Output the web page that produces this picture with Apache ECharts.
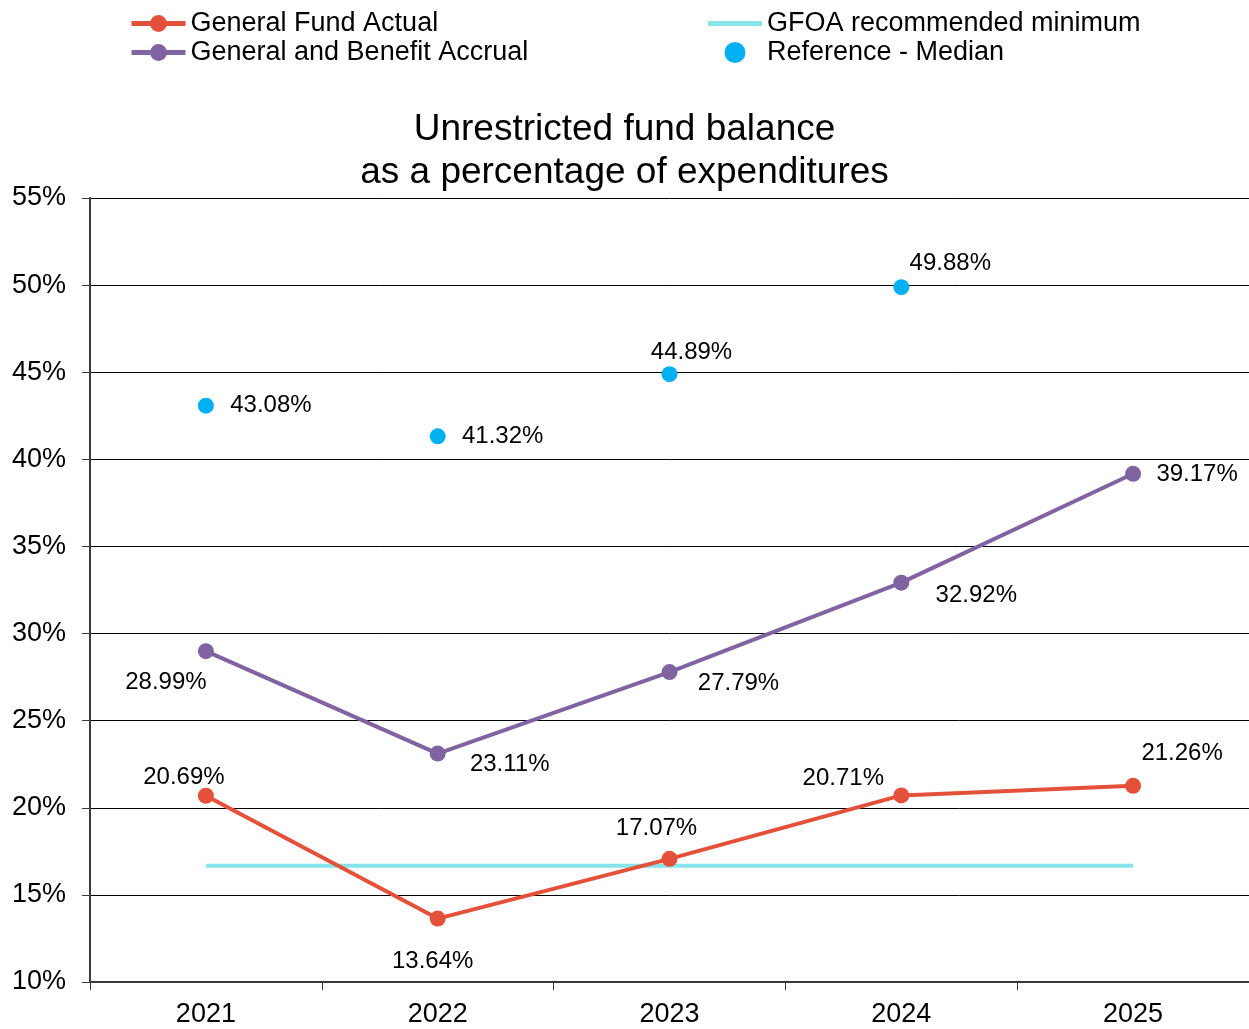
<!DOCTYPE html>
<html>
<head>
<meta charset="utf-8">
<script src="https://cdn.jsdelivr.net/npm/echarts@6/dist/echarts.min.js"></script>
<style>
  html, body { margin: 0; padding: 0; background: #fff; }
  #chart { width: 1249px; height: 1029px; }
</style>
</head>
<body>
<div id="chart"></div>
<script>
const years = ['2021', '2022', '2023', '2024', '2025']
const generalFund = [20.69, 13.64, 17.07, 20.71, 21.26]
const benefitAccrual = [28.99, 23.11, 27.79, 32.92, 39.17]
const gfoaMinimum = [16.67, 16.67, 16.67, 16.67, 16.67]
const referenceMedian = [43.08, 41.32, 44.89, 49.88, null]
const yTicks = { min: 10, max: 55, step: 5 }

const chart = echarts.init(document.getElementById('chart'))
const FONT = '"Liberation Sans", Arial, sans-serif'

// label offsets from point centre, per point
const fundOffsets = [[-22, -18], [-5, 43], [-13, -30], [-58, -17], [49, -32]]
const accrualOffsets = [[-40, 31], [72, 11], [69, 11], [75, 13], [64, 1]]
const medianOffsets = [[65, 0], [65, 0], [22, -22], [49, -24], [0, 0]]

const withLabels = (values, offsets) => values.map((v, i) => ({
  value: v,
  label: { show: v != null, position: 'inside', offset: offsets[i], color: '#000' }
}))

const labelStyle = {
  show: true,
  color: '#000',
  fontSize: 24,
  fontFamily: FONT,
  formatter: p => p.value.toFixed(2) + '%'
}

const legendText = { fontSize: 27, fontFamily: FONT, color: '#000' }
const legendCommon = {
  orient: 'vertical',
  top: 10,
  padding: 0,
  itemWidth: 54,
  itemHeight: 21,
  itemGap: 2,
  textStyle: legendText,
  lineStyle: { width: 5 }
}

const option = {
  animation: false,
  title: {
    text: 'Unrestricted fund balance\nas a percentage of expenditures',
    left: 'center',
    top: 103,
    textStyle: { fontSize: 37, fontWeight: 'normal', fontFamily: FONT, color: '#000', lineHeight: 43 }
  },
  legend: [
    Object.assign({}, legendCommon, {
      left: 129,
      itemWidth: 54,
      data: ['General Fund Actual', 'General and Benefit Accrual']
    }),
    Object.assign({}, legendCommon, {
      left: 708,
      data: [
        { name: 'GFOA recommended minimum', icon: 'path://M0,0h54v5h-54z' },
        { name: 'Reference - Median', icon: 'path://M27,0a8,8 0 1,0 0.01,0z' }
      ]
    })
  ],
  grid: { left: 90, right: 0, top: 198, bottom: 47 },
  xAxis: {
    type: 'category',
    data: years,
    boundaryGap: true,
    axisLine: { lineStyle: { color: '#3a3a3a', width: 2 } },
    axisTick: { show: true, length: 8, lineStyle: { color: '#3a3a3a', width: 1 } },
    axisLabel: { fontSize: 27, fontFamily: FONT, color: '#000', margin: 19 }
  },
  yAxis: {
    type: 'value',
    min: yTicks.min,
    max: yTicks.max,
    interval: yTicks.step,
    axisLine: { show: true, lineStyle: { color: '#3a3a3a', width: 2 } },
    axisTick: { show: true, length: 8, lineStyle: { color: '#3a3a3a', width: 1 } },
    axisLabel: { fontSize: 27, fontFamily: FONT, color: '#000', margin: 24, formatter: '{value}%' },
    splitLine: { show: true, lineStyle: { color: '#000', width: 1 } }
  },
  series: [
    {
      name: 'GFOA recommended minimum',
      type: 'line',
      data: gfoaMinimum,
      symbol: 'none',
      lineStyle: { color: '#87E4E8', width: 4 },
      itemStyle: { color: '#87E4E8' },
      z: 2
    },
    {
      name: 'General Fund Actual',
      type: 'line',
      data: withLabels(generalFund, fundOffsets),
      symbol: 'circle',
      symbolSize: 16,
      lineStyle: { color: '#E4513A', width: 4 },
      itemStyle: { color: '#E4513A' },
      label: labelStyle,
      z: 3
    },
    {
      name: 'General and Benefit Accrual',
      type: 'line',
      data: withLabels(benefitAccrual, accrualOffsets),
      symbol: 'circle',
      symbolSize: 16,
      lineStyle: { color: '#8064A2', width: 4 },
      itemStyle: { color: '#8064A2' },
      label: labelStyle,
      z: 3
    },
    {
      name: 'Reference - Median',
      type: 'scatter',
      data: withLabels(referenceMedian, medianOffsets),
      symbol: 'circle',
      symbolSize: 16,
      itemStyle: { color: '#00B0F0', opacity: 1 },
      label: labelStyle,
      z: 4
    }
  ]
}

chart.setOption(option)
</script>
</body>
</html>
